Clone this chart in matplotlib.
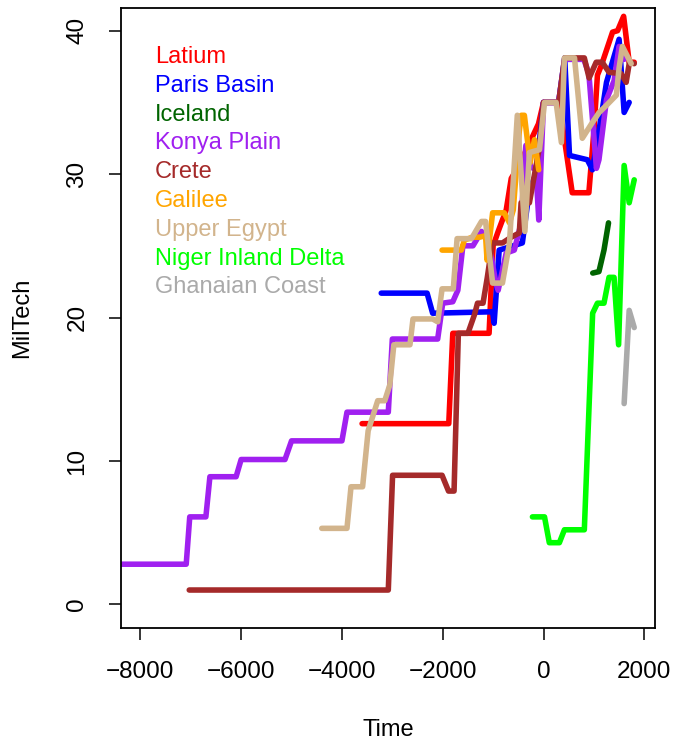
import numpy as np
import matplotlib.pyplot as plt

plt.rcParams['font.family'] = ['Liberation Sans', 'DejaVu Sans']

names = ['Latium', 'Paris Basin', 'Iceland', 'Konya Plain', 'Crete', 'Galilee',
         'Upper Egypt', 'Niger Inland Delta', 'Ghanaian Coast']
colors = ['#FF0000', '#0000FF', '#006400', '#A020F0', '#A52A2A', '#FFA500',
          '#D2B48C', '#00FF00', '#AAAAAA']

latium_t = [-3600, -1880, -1800, -1080, -1000, -900, -740, -640, -500, -300, -100, 0, 300, 400,
            570, 900, 1000, 1070, 1150, 1370, 1470, 1590, 1700, 1800]
latium_v = [12.6, 12.6, 18.9, 18.9, 25.0, 26.0, 27.5, 29.7, 30.5, 32.0, 33.5, 35.0, 35.0, 32.8,
            28.7, 28.7, 33.0, 36.9, 37.6, 39.9, 40.0, 41.0, 37.8, 37.8]

paris_t = [-3220, -2310, -2200, -1010, -980, -880, -420, -280, -150, 0, 300, 420, 516,
           870, 970, 1150, 1250, 1500, 1600, 1700]
paris_v = [21.7, 21.7, 20.3, 20.4, 19.6, 24.7, 25.2, 28.9, 30.0, 35.0, 35.0, 38.1, 31.3,
           31.0, 30.3, 34.1, 36.4, 39.4, 34.3, 35.0]

iceland_t = [977, 1100, 1200, 1290]
iceland_v = [23.1, 23.2, 24.7, 26.6]

konya_t = [-8400, -7090, -7020, -6700, -6620, -6100, -6000, -5130, -5000, -4000, -3900,
           -3080, -3000, -2100, -2000, -1800, -1700, -1600, -1400, -1230, -1100, -950, -900,
           -740, -580, -450, -350, -250, -150, -94, 0, 300, 420, 800, 900, 1050, 1100, 1250,
           1400, 1500, 1600]
konya_v = [2.8, 2.8, 6.1, 6.1, 8.9, 8.9, 10.1, 10.1, 11.4, 11.4, 13.4,
           13.4, 18.5, 18.5, 21.0, 21.1, 21.9, 25.0, 25.0, 26.0, 25.5, 22.5, 21.9,
           24.5, 24.7, 26.5, 32.0, 30.5, 30.3, 26.8, 35.0, 35.0, 38.0, 38.0, 37.0, 30.4, 31.0,
           35.2, 36.5, 38.9, 38.0]

crete_t = [-7030, -3080, -2995, -2013, -1885, -1775, -1690, -1500, -1370, -1310, -1200,
           -1115, -1015, -815, -640, -480, -445, -280, -80, 0, 300, 420, 810, 905, 1045,
           1165, 1300, 1540, 1640, 1705, 1800]
crete_v = [1.0, 1.0, 9.0, 9.0, 7.9, 7.9, 18.9, 18.9, 20.2, 21.0, 21.0,
           22.8, 25.2, 25.2, 25.6, 25.9, 28.0, 28.0, 31.9, 35.0, 35.0, 38.1, 38.1, 36.7, 37.8,
           37.8, 37.1, 37.0, 36.4, 37.8, 37.7]

galilee_t = [-2013, -1630, -1570, -1410, -1270, -1150, -1120, -1010, -780, -675, -600,
             -480, -440, -380, -265, -180, -95]
galilee_v = [24.7, 24.7, 25.4, 25.6, 25.6, 25.7, 24.0, 27.3, 27.3, 26.6, 27.5,
             33.0, 34.1, 34.1, 30.8, 32.4, 30.3]

egypt_t = [-4400, -3900, -3820, -3590, -3480, -3290, -3150, -3050, -2970, -2650, -2590,
           -2200, -2100, -2013, -1790, -1715, -1430, -1230, -1150, -1010, -815, -675, -520,
           -370, -280, -80, 20, 250, 355, 415, 615, 770, 970, 1105, 1250, 1445, 1500, 1565, 1740]
egypt_v = [5.3, 5.3, 8.2, 8.2, 12.1, 14.2, 14.2, 15.3, 18.1, 18.1, 19.9,
           19.9, 19.7, 22.0, 22.0, 25.5, 25.5, 26.7, 26.7, 22.4, 22.4, 25.2, 34.1,
           26.0, 31.5, 31.7, 35.0, 35.0, 32.2, 38.1, 38.1, 32.5, 33.6, 34.3, 34.8, 35.5, 37.4, 38.9, 37.7]

niger_t = [-220, 20, 115, 315, 415, 810, 975, 1070, 1200, 1300, 1400, 1490, 1600, 1700, 1800]
niger_v = [6.1, 6.1, 4.3, 4.3, 5.2, 5.2, 20.3, 21.0, 21.0, 22.8, 22.8, 18.1, 30.6, 28.0, 29.6]

ghana_t = [1600, 1700, 1800]
ghana_v = [14.0, 20.5, 19.3]

series = [(latium_t, latium_v), (paris_t, paris_v), (iceland_t, iceland_v),
          (konya_t, konya_v), (crete_t, crete_v), (galilee_t, galilee_v),
          (egypt_t, egypt_v), (niger_t, niger_v), (ghana_t, ghana_v)]

fig = plt.figure(figsize=(6.73, 7.42), dpi=100)
ax = fig.add_axes([0.1798, 0.1536, 0.7935, 0.8356])

for (t, v), c in zip(series, colors):
    ax.plot(t, v, color=c, lw=4, solid_capstyle='round', solid_joinstyle='round')

ax.set_xlim(-8384, 2213)
ax.set_ylim(-1.65, 41.58)
ax.set_xticks([-8000, -6000, -4000, -2000, 0, 2000])
ax.set_xticklabels(['\u22128000', '\u22126000', '\u22124000', '\u22122000', '0', '2000'])
ax.set_yticks([0, 10, 20, 30, 40])
ax.tick_params(labelsize=17.5, length=8.5, width=1.1, pad=15)
plt.setp(ax.get_yticklabels(), rotation=90, va='center')
for s in ax.spines.values():
    s.set_linewidth(1.3)

ax.set_xlabel('Time', fontsize=17, labelpad=26)
ax.set_ylabel('MilTech', fontsize=17, labelpad=24)

for i, (n, c) in enumerate(zip(names, colors)):
    ax.text(0.0637, 0.921 - i * 0.04645, n, color=c, fontsize=17,
            transform=ax.transAxes, va='center', ha='left')

fig.savefig('out.png', dpi=100)
